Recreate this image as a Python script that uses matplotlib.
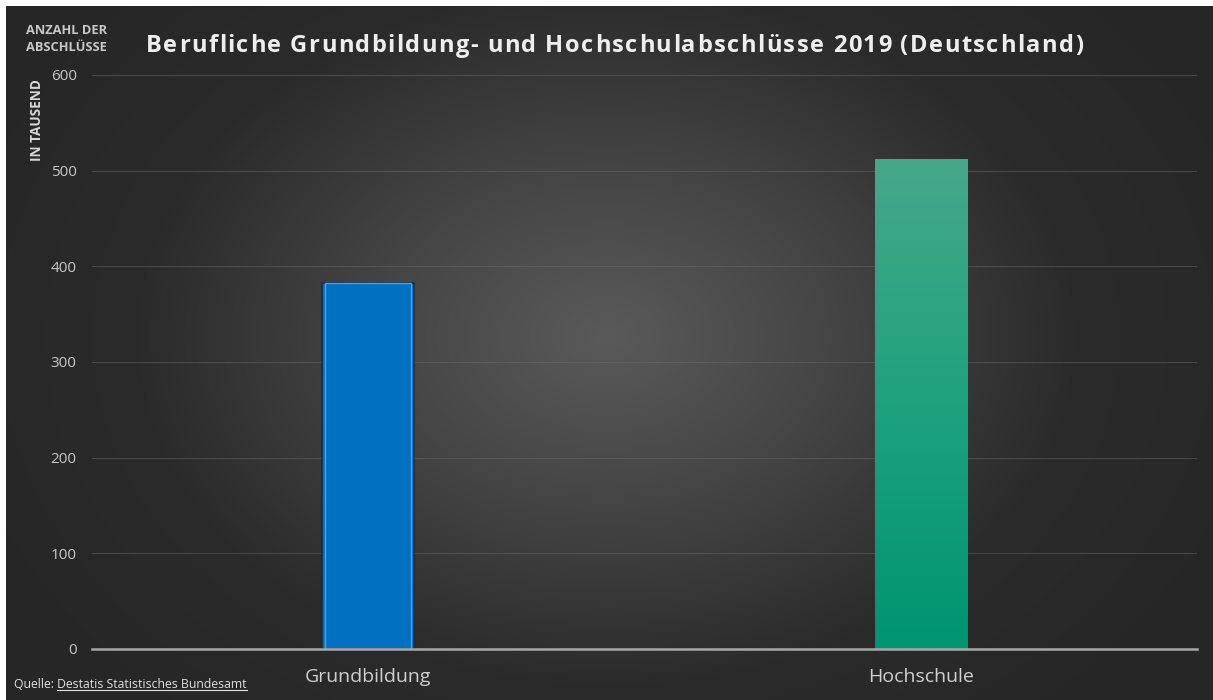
import numpy as np
import matplotlib.pyplot as plt
from matplotlib.colors import LinearSegmentedColormap
from matplotlib.font_manager import findfont, FontProperties
from matplotlib.ft2font import FT2Font
import matplotlib.patheffects as pe

categories = ["Grundbildung", "Hochschule"]
values = [383, 512]
yticks = [0, 100, 200, 300, 400, 500, 600]
title = "Berufliche Grundbildung- und Hochschulabschlüsse 2019 (Deutschland)"

W, H = 1213, 700
fig = plt.figure(figsize=(W / 100, H / 100), dpi=100)
fig.patch.set_facecolor("white")

# background radial gradient (dark frame, with white strip on top/left)
bg = fig.add_axes([6 / W, 0, 1 - 6 / W, 1 - 6 / H])
bg.set_axis_off()
yy, xx = np.mgrid[0:694, 0:1207]
cx, cy = 600, 330
r = np.sqrt(((xx - cx) / 700.0) ** 2 + ((yy - cy) / 520.0) ** 2)
r = np.clip(r, 0, 1)
cmap = LinearSegmentedColormap.from_list("g", ["#5a5a5a", "#444444", "#2b2b2b", "#262626"])
bg.imshow(r, cmap=cmap, vmin=0, vmax=1, aspect="auto", interpolation="bilinear")

ax = fig.add_axes([92 / W, 1 - 649 / H, (1197 - 92) / W, (649 - 75) / H])
ax.patch.set_alpha(0)
x = np.arange(len(categories))
ax.set_xlim(-0.5, 1.5)
ax.set_ylim(0, 600)

ax.bar(x[0], values[0], width=0.167, color="#0070c0", edgecolor="#1e2a3a", linewidth=1.2, zorder=3,
       path_effects=[pe.SimplePatchShadow(offset=(0, 0), shadow_rgbFace="#111111", alpha=0.4), pe.Normal()])
ax.bar(x[0], values[0], width=0.155, color="none", edgecolor="#3fa6ff", linewidth=1.0, zorder=4)

# Hochschule: vertical gradient bar
bx0, bx1 = x[1] - 0.0835, x[1] + 0.0835
grad = np.linspace(0, 1, 256).reshape(-1, 1)
gcmap = LinearSegmentedColormap.from_list("gr", ["#009470", "#1ea27e", "#46a889"])
ax.imshow(grad, cmap=gcmap, extent=[bx0, bx1, 0, values[1]], origin="lower", aspect="auto", zorder=3)
ax.set_xlim(-0.5, 1.5)
ax.set_ylim(0, 600)

ax.set_yticks(yticks)
ax.set_xticks(x)
ax.set_xticklabels(categories)
ax.grid(axis="y", color="#6a6a6a", linewidth=0.6, alpha=0.6, zorder=0)
ax.set_axisbelow(True)
for s in ["top", "right", "left"]:
    ax.spines[s].set_visible(False)
ax.spines["bottom"].set_color("#a8a8a8")
ax.spines["bottom"].set_linewidth(1.8)
ax.spines["bottom"].set_zorder(5)
ax.tick_params(axis="y", length=0, pad=11, labelsize=11, labelcolor="#c8c8c8")
ax.tick_params(axis="x", length=0, pad=14, labelsize=14, labelcolor="#d0d0d0")
for lab in ax.get_yticklabels() + ax.get_xticklabels():
    lab.set_fontfamily("Open Sans")

# letter-spaced title using glyph advances
fsize = 17
fpath = findfont(FontProperties(family="Open Sans", weight="bold"))
ft = FT2Font(fpath)
ft.set_size(fsize, 100)
tx = 146.0
ty = 1 - 43 / H
spacing = 1.5
for ch in title:
    fig.text(tx / W, ty, ch, fontsize=fsize, fontweight="bold", color="#eeeeee",
             family="Open Sans", va="center_baseline", ha="left")
    g = ft.load_char(ord(ch))
    adv = g.linearHoriAdvance / 65536.0
    tx += adv + spacing

fig.text(26 / W, 1 - 39 / H, "ANZAHL DER\nABSCHLÜSSE", fontsize=9.3, fontweight="bold", color="#c8c8c8",
         family="Open Sans", va="center", ha="left", linespacing=1.45)
fig.text(37 / W, 1 - 120 / H, "IN TAUSEND", fontsize=9.8, fontweight="bold", color="#d8d8d8",
         family="Open Sans", va="center", ha="center", rotation=90)
t1 = fig.text(14 / W, 1 - 684 / H, "Quelle: ", fontsize=8.8, color="#e0e0e0", family="Open Sans",
              va="center", ha="left")
fig.canvas.draw()
bb = t1.get_window_extent()
x2 = bb.x1 / W
t2 = fig.text(x2, 1 - 684 / H, "Destatis Statistisches Bundesamt", fontsize=8.8, color="#e0e0e0",
              family="Open Sans", va="center", ha="left")
fig.canvas.draw()
bb2 = t2.get_window_extent()
fig.add_artist(plt.Line2D([bb2.x0 / W, bb2.x1 / W], [(bb2.y0 + 1) / H, (bb2.y0 + 1) / H],
                          color="#e0e0e0", linewidth=0.8, transform=fig.transFigure))

fig.savefig("out.png", dpi=100)
